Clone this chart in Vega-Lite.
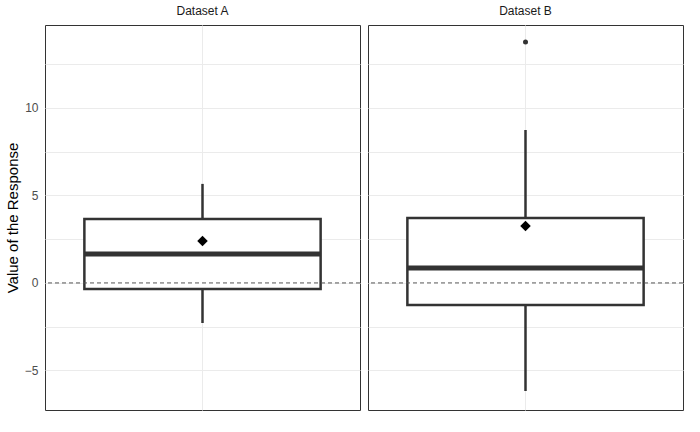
{
"$schema":"https://vega.github.io/schema/vega-lite/v6.json",
"background":"white",
"padding":{"left":5,"top":5,"right":8,"bottom":8},
"data":{"values":[
{"dataset":"Dataset A","lower":-2.29,"q1":-0.34,"median":1.66,"q3":3.66,"upper":5.66,"mean":2.4,"outlier":null},
{"dataset":"Dataset B","lower":-6.17,"q1":-1.26,"median":0.86,"q3":3.71,"upper":8.74,"mean":3.26,"outlier":13.77}
]},
"facet":{"column":{"field":"dataset","type":"nominal","title":null,"header":{"labelFontSize":12,"labelColor":"#1a1a1a","labelFont":"Liberation Sans","labelPadding":6}}},
"spacing":6,
"resolve":{"scale":{"x":"independent"}},
"spec":{
"width":315,"height":385,
"encoding":{"x":{"field":"dataset","type":"nominal","axis":{"labels":false,"ticks":false,"title":null,"domain":false,"grid":true,"gridColor":"#ebebeb"}}},
"layer":[
{"mark":{"type":"rule","color":"#333","strokeWidth":2.5},"encoding":{"y":{"field":"lower","type":"quantitative","scale":{"domain":[-7.26,14.74],"nice":false,"zero":false},"axis":{"title":"Value of the Response","titleFont":"Liberation Sans","titleFontSize":15,"titleFontWeight":"normal","titleColor":"#000","labelColor":"#4d4d4d","labelFont":"Liberation Sans","labelFontSize":12,"values":[-5,-2.5,0,2.5,5,7.5,10,12.5],"labelExpr":"datum.value % 5 == 0 ? datum.label : ''","ticks":false,"labelPadding":6,"gridColor":"#ebebeb","domain":false}},"y2":{"field":"upper"}}},
{"mark":{"type":"bar","fill":"white","stroke":"#333","strokeWidth":2.5,"width":{"band":0.75}},"encoding":{"y":{"field":"q1","type":"quantitative"},"y2":{"field":"q3"}}},
{"mark":{"type":"rule","strokeDash":[4,3],"color":"#555","strokeWidth":1},"encoding":{"y":{"datum":0},"x":{}}},
{"mark":{"type":"tick","color":"#333","thickness":5,"size":236,"opacity":1},"encoding":{"y":{"field":"median","type":"quantitative"}}},
{"mark":{"type":"point","shape":"diamond","filled":true,"color":"black","size":110,"opacity":1},"encoding":{"y":{"field":"mean","type":"quantitative"}}},
{"mark":{"type":"point","shape":"circle","filled":true,"color":"#333","size":25,"opacity":1},"encoding":{"y":{"field":"outlier","type":"quantitative"}}}
]
},
"config":{"view":{"stroke":"#333","strokeWidth":1}}
}
